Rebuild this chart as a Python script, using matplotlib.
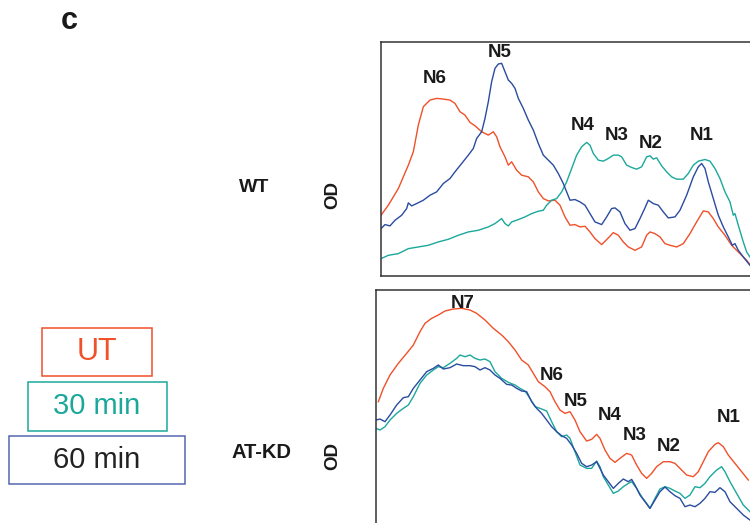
import numpy as np
import matplotlib.pyplot as plt
from matplotlib.patches import Rectangle

plt.rcParams['font.family'] = ['Liberation Sans', 'DejaVu Sans']

# ---- WT panel (position a.u., OD a.u.) ----
wt_ut_x = [18, 40, 70, 100, 115, 130, 145, 165, 185, 205, 225, 240, 255, 270, 285, 300, 320, 340, 355, 365,
           375, 390, 400, 410, 425, 440, 460, 475, 490, 505, 520, 540, 555, 570, 585, 600, 615, 630, 645, 660,
           680, 700, 715, 730, 745, 760, 780, 800, 815, 825, 840, 855, 870, 885, 905, 925, 945, 965, 985, 1000,
           1015, 1030, 1050, 1070, 1085, 1100, 1115, 1125]
wt_ut_y = [182, 212, 262, 332, 372, 452, 507, 527, 532, 530, 527, 517, 492, 482, 460, 450, 432, 422, 432, 417,
           387, 357, 332, 342, 317, 302, 297, 282, 252, 232, 225, 227, 212, 177, 152, 154, 147, 149, 132, 112,
           94, 114, 130, 122, 102, 87, 77, 87, 122, 132, 127, 117, 97, 92, 87, 97, 127, 162, 195, 192,
           172, 147, 122, 92, 77, 62, 47, 34]

wt_30_x = [18, 40, 70, 100, 130, 160, 190, 220, 250, 280, 310, 340, 360, 380, 390, 400, 410, 430, 450, 470,
           490, 505, 515, 530, 545, 560, 575, 590, 605, 620, 635, 645, 655, 670, 685, 700, 715, 730, 740, 755,
           770, 785, 800, 815, 825, 835, 845, 860, 875, 890, 905, 925, 940, 955, 970, 990, 1005, 1020, 1035, 1050,
           1065, 1075, 1080, 1090, 1105, 1115, 1125]
wt_30_y = [52, 62, 67, 82, 87, 92, 102, 110, 122, 132, 137, 147, 157, 172, 157, 150, 162, 169, 177, 187,
           194, 197, 212, 227, 232, 252, 282, 322, 362, 387, 400, 392, 367, 347, 344, 352, 362, 362, 357, 332,
           325, 320, 327, 357, 360, 350, 354, 330, 312, 297, 290, 290, 307, 332, 344, 349, 344, 322, 292, 252,
           222, 182, 187, 152, 102, 72, 57]

wt_60_x = [18, 30, 45, 60, 80, 95, 100, 110, 125, 145, 165, 185, 205, 225, 240, 260, 280, 295, 305, 320,
           330, 340, 350, 360, 370, 380, 390, 400, 410, 420, 430, 445, 460, 475, 490, 505, 520, 535, 550, 565,
           575, 585, 600, 615, 630, 645, 660, 680, 695, 710, 720, 735, 750, 765, 780, 795, 810, 820, 835, 850,
           865, 880, 900, 915, 935, 955, 970, 980, 990, 1000, 1015, 1030, 1045, 1060, 1072, 1080, 1090, 1105, 1125]
wt_60_y = [142, 154, 150, 167, 182, 202, 219, 210, 217, 227, 242, 252, 277, 292, 312, 337, 362, 382, 412, 432,
           472, 522, 582, 622, 635, 637, 612, 587, 577, 562, 532, 502, 467, 437, 397, 362, 347, 332, 307, 277,
           252, 227, 229, 222, 212, 187, 162, 154, 177, 202, 204, 192, 157, 137, 142, 172, 204, 227, 217, 212,
           192, 174, 177, 197, 242, 297, 327, 337, 322, 282, 232, 182, 147, 117, 92, 97, 77, 57, 32]

wt_peaks = ['N6', 'N5', 'N4', 'N3', 'N2', 'N1']
wt_peak_x = [180, 375, 622, 725, 828, 980]
wt_peak_y = [592, 670, 452, 422, 397, 422]

# ---- AT-KD panel ----
kd_ut_x = [25, 40, 60, 85, 110, 130, 150, 165, 185, 205, 225, 250, 275, 300, 320, 345, 370, 395, 415, 435,
           455, 475, 490, 505, 525, 540, 555, 570, 585, 600, 615, 630, 650, 665, 680, 690, 705, 720, 735, 750,
           770, 785, 800, 815, 830, 845, 860, 880, 900, 915, 930, 950, 970, 985, 1000, 1015, 1035, 1045, 1060, 1075,
           1095, 1115, 1135]
kd_ut_y = [364, 404, 444, 479, 509, 534, 574, 599, 614, 624, 636, 642, 644, 639, 629, 609, 584, 564, 544, 519,
           489, 474, 449, 424, 409, 394, 364, 339, 329, 334, 309, 274, 246, 251, 266, 254, 219, 194, 182, 194,
           209, 204, 174, 149, 134, 149, 169, 184, 184, 179, 164, 144, 139, 154, 184, 214, 236, 241, 229, 204,
           179, 154, 129]

kd_30_x = [18, 30, 45, 60, 80, 100, 115, 130, 150, 170, 190, 205, 220, 240, 260, 270, 285, 300, 315, 330,
           345, 360, 375, 395, 415, 435, 450, 465, 480, 495, 510, 530, 545, 560, 575, 590, 600, 615, 630, 650,
           665, 680, 690, 700, 715, 730, 745, 760, 775, 785, 800, 815, 830, 840, 855, 870, 885, 900, 915, 930,
           945, 960, 975, 990, 1005, 1020, 1040, 1055, 1065, 1080, 1100, 1120, 1140]
kd_30_y = [284, 279, 289, 309, 329, 344, 354, 379, 419, 444, 459, 469, 466, 479, 494, 504, 499, 504, 494, 489,
           492, 484, 454, 434, 422, 414, 404, 396, 374, 349, 344, 336, 304, 274, 259, 264, 254, 214, 174, 164,
           164, 186, 169, 139, 114, 89, 96, 109, 119, 124, 104, 79, 59, 44, 74, 102, 109, 104, 96, 89,
           74, 84, 109, 106, 119, 139, 159, 169, 154, 124, 89, 54, 34]

kd_60_x = [18, 30, 45, 60, 80, 100, 115, 130, 150, 170, 190, 205, 220, 240, 260, 280, 300, 315, 330, 345,
           360, 375, 390, 410, 425, 440, 455, 470, 485, 500, 515, 530, 545, 560, 575, 590, 605, 620, 635, 650,
           665, 680, 690, 700, 715, 730, 745, 760, 775, 785, 795, 810, 825, 840, 855, 870, 885, 900, 915, 930,
           945, 960, 975, 990, 1005, 1020, 1035, 1050, 1065, 1080, 1100, 1120, 1140]
kd_60_y = [309, 312, 304, 324, 354, 376, 379, 404, 429, 454, 464, 474, 462, 466, 477, 472, 472, 469, 459, 466,
           459, 444, 434, 416, 414, 404, 396, 394, 364, 344, 329, 309, 289, 274, 262, 254, 234, 209, 179, 169,
           174, 184, 164, 144, 124, 104, 119, 132, 124, 131, 114, 84, 64, 44, 69, 94, 108, 94, 82, 74,
           49, 54, 49, 59, 74, 94, 92, 106, 94, 64, 44, 24, 9]

kd_peaks = ['N7', 'N6', 'N5', 'N4', 'N3', 'N2', 'N1']
kd_peak_x = [278, 545, 617, 718, 795, 897, 1075]
kd_peak_y = [659, 442, 364, 322, 264, 231, 316]

conditions = ['UT', '30 min', '60 min']
line_colors = ['#F0502A', '#1BA89B', '#2A4BA0']
box_colors = ['#F0502A', '#1BA89B', '#5566B0']
text_colors = ['#F0502A', '#1BA89B', '#222222']

W, H = 750, 523
fig = plt.figure(figsize=(W / 100, H / 100), dpi=100)


def fx(px):
    return px / W


def fy(py):
    return 1 - py / H


# top panel: spines at x=381, top y=42.3, bottom y=276 px
ax1 = fig.add_axes([fx(381), fy(276), fx(753.3) - fx(381), fy(42.3) - fy(276)])
ax1.plot(wt_ut_x, wt_ut_y, color=line_colors[0], lw=1.0)
ax1.plot(wt_30_x, wt_30_y, color=line_colors[1], lw=1.0)
ax1.plot(wt_60_x, wt_60_y, color=line_colors[2], lw=1.0)
for lab, x, y in zip(wt_peaks, wt_peak_x, wt_peak_y):
    ax1.text(x, y, lab, ha='center', va='center', fontsize=13.5, fontweight='bold', color='#1a1a1a')
ax1.set_xlim(18, 1135)
ax1.set_ylim(0, 700)

# bottom panel: spines at x=376, top y=290 px, runs off the canvas
ax2 = fig.add_axes([fx(376), fy(529.7), fx(753.3) - fx(376), fy(290) - fy(529.7)])
ax2.plot(kd_ut_x, kd_ut_y, color=line_colors[0], lw=1.0)
ax2.plot(kd_30_x, kd_30_y, color=line_colors[1], lw=1.0)
ax2.plot(kd_60_x, kd_60_y, color=line_colors[2], lw=1.0)
for lab, x, y in zip(kd_peaks, kd_peak_x, kd_peak_y):
    ax2.text(x, y, lab, ha='center', va='center', fontsize=13.5, fontweight='bold', color='#1a1a1a')
ax2.set_xlim(18, 1150)
ax2.set_ylim(-20, 699)

for ax in (ax1, ax2):
    ax.set_xticks([])
    ax.set_yticks([])
    for sp in ax.spines.values():
        sp.set_color('#333333')
        sp.set_linewidth(1.1)

# row labels
fig.text(fx(254), fy(188), 'WT', ha='center', va='center', fontsize=14, fontweight='bold', color='#1a1a1a')
fig.text(fx(333), fy(195), 'OD', ha='center', va='center', fontsize=13.5, fontweight='bold',
         rotation=90, color='#1a1a1a')
fig.text(fx(262), fy(452), 'AT-KD', ha='center', va='center', fontsize=14.5, fontweight='bold', color='#1a1a1a')
fig.text(fx(333), fy(456), 'OD', ha='center', va='center', fontsize=13.5, fontweight='bold',
         rotation=90, color='#1a1a1a')
fig.text(fx(69), fy(21), 'c', ha='center', va='center', fontsize=22, fontweight='bold', color='#1a1a1a')

# legend boxes
boxes = [(41.7, 327.7, 152.3, 375.7), (27.7, 382.3, 166.7, 430.7), (9.3, 435.7, 185, 484)]
sizes = [22, 21, 21]
for cond, (x0, y0, x1, y1), bc, tc, fs in zip(conditions, boxes, box_colors, text_colors, sizes):
    fig.patches.append(Rectangle((fx(x0), fy(y1)), fx(x1) - fx(x0), fy(y0) - fy(y1),
                                 transform=fig.transFigure, fill=False, edgecolor=bc, lw=1.1))
    fig.text(fx(97), fy((y0 + y1) / 2), cond, ha='center', va='center', fontsize=fs, color=tc)

fig.savefig('out.png', dpi=100)
